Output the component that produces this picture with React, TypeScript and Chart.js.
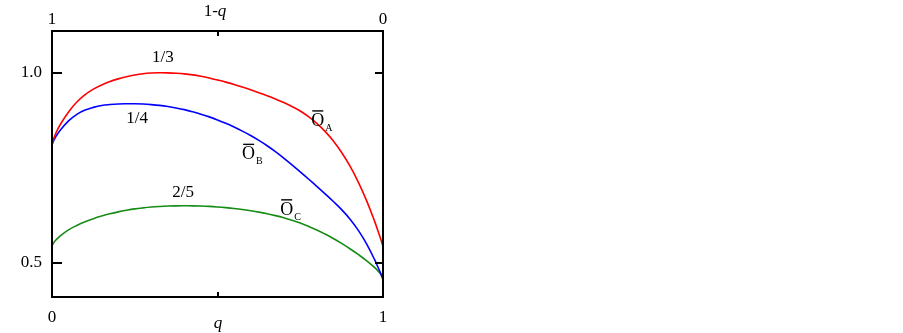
import React, { useEffect, useRef } from "react";
import { Chart, registerables } from "chart.js";

Chart.register(...registerables);

// q values (bottom axis); top axis shows 1-q
const Q = [0, 0.005, 0.0125, 0.025, 0.05, 0.075, 0.1, 0.125, 0.15, 0.175, 0.2, 0.225, 0.25, 0.275, 0.3, 0.325, 0.35, 0.375, 0.4, 0.425, 0.45, 0.475, 0.5, 0.525, 0.55, 0.575, 0.6, 0.625, 0.65, 0.675, 0.7, 0.725, 0.75, 0.775, 0.8, 0.825, 0.85, 0.875, 0.9, 0.925, 0.95, 0.975, 0.9875, 0.995, 1];
const S_A = [0.811, 0.826, 0.843, 0.864, 0.897, 0.923, 0.9425, 0.957, 0.968, 0.9768, 0.984, 0.9898, 0.9943, 0.9975, 0.9993, 1.0, 0.9997, 0.9988, 0.9972, 0.9945, 0.9908, 0.9863, 0.981, 0.9755, 0.9693, 0.9625, 0.9552, 0.9475, 0.9394, 0.9308, 0.9217, 0.9115, 0.8994, 0.8846, 0.867, 0.8458, 0.8205, 0.7903, 0.7548, 0.713, 0.6642, 0.6083, 0.5769, 0.5572, 0.543];
const S_B = [0.811, 0.8215, 0.8337, 0.849, 0.8735, 0.8908, 0.902, 0.909, 0.914, 0.9165, 0.918, 0.9185, 0.9185, 0.9178, 0.9163, 0.9142, 0.9113, 0.9076, 0.9031, 0.8975, 0.8912, 0.884, 0.876, 0.8671, 0.8573, 0.8466, 0.835, 0.822, 0.808, 0.7925, 0.7757, 0.7578, 0.7394, 0.7205, 0.7012, 0.6815, 0.6613, 0.64, 0.6155, 0.586, 0.5505, 0.5075, 0.483, 0.4675, 0.4555];
const S_C = [0.545, 0.5525, 0.5605, 0.5711, 0.5867, 0.5984, 0.6081, 0.6162, 0.623, 0.6289, 0.634, 0.6382, 0.6418, 0.6445, 0.6467, 0.6483, 0.6494, 0.6499, 0.65, 0.6498, 0.6493, 0.6484, 0.647, 0.6452, 0.643, 0.6403, 0.637, 0.6333, 0.629, 0.6241, 0.6185, 0.6119, 0.6045, 0.5959, 0.5865, 0.5757, 0.564, 0.551, 0.537, 0.522, 0.5058, 0.4872, 0.4757, 0.4676, 0.4596];

const X_TICKS = [0, 1];
const Y_TICKS = [0.5, 1.0];

const FRACTION_LABELS = [
  { text: "1/3", q: 0.335, s: 1.039 },
  { text: "1/4", q: 0.257, s: 0.88 },
  { text: "2/5", q: 0.396, s: 0.686 },
];
const O_LABELS = [
  { sub: "A", q: 0.803, s: 0.876 },
  { sub: "B", q: 0.594, s: 0.788 },
  { sub: "C", q: 0.709, s: 0.642 },
];

const SERIF = "'Liberation Serif', 'DejaVu Serif', serif";

const toPoints = (ys: number[]) => Q.map((q, i) => ({ x: q, y: ys[i] }));

const framePlugin = {
  id: "frame",
  afterDraw(chart: any) {
    const { ctx, chartArea, scales } = chart;
    const { left, right, top, bottom } = chartArea;
    const line = (x1: number, y1: number, x2: number, y2: number) => {
      ctx.beginPath();
      ctx.moveTo(x1, y1);
      ctx.lineTo(x2, y2);
      ctx.stroke();
    };
    ctx.save();
    ctx.strokeStyle = "#000";
    ctx.lineWidth = 2;
    ctx.strokeRect(left, top, right - left, bottom - top);
    Y_TICKS.forEach((v) => {
      const y = Math.round(scales.y.getPixelForValue(v));
      line(left, y, left + 10, y);
      line(right, y, right - 8, y);
    });
    const xm = Math.round(scales.x.getPixelForValue(0.5));
    line(xm, bottom, xm, bottom - 5);
    line(xm, top, xm, top + 5);

    ctx.fillStyle = "#000";
    // bottom title
    ctx.font = `italic 17px ${SERIF}`;
    ctx.textAlign = "center";
    ctx.textBaseline = "alphabetic";
    ctx.fillText("q", xm, 328);
    // top title "1-q"
    ctx.font = `17px ${SERIF}`;
    const w1 = ctx.measureText("1-").width;
    ctx.font = `italic 17px ${SERIF}`;
    const w2 = ctx.measureText("q").width;
    const start = xm - 3 - (w1 + w2) / 2;
    ctx.textAlign = "left";
    ctx.font = `17px ${SERIF}`;
    ctx.fillText("1-", start, 16);
    ctx.font = `italic 17px ${SERIF}`;
    ctx.fillText("q", start + w1, 16);

    // fraction labels
    ctx.font = `17px ${SERIF}`;
    ctx.textAlign = "center";
    ctx.textBaseline = "middle";
    FRACTION_LABELS.forEach((l) => {
      ctx.fillText(l.text, scales.x.getPixelForValue(l.q), scales.y.getPixelForValue(l.s));
    });
    // O-bar labels
    O_LABELS.forEach((l) => {
      const cx = scales.x.getPixelForValue(l.q);
      const cy = scales.y.getPixelForValue(l.s);
      ctx.font = `18px ${SERIF}`;
      ctx.textAlign = "center";
      ctx.textBaseline = "alphabetic";
      const base = cy + 6;
      ctx.fillText("O", cx, base);
      const w = ctx.measureText("O").width;
      ctx.lineWidth = 1.4;
      line(cx - w / 2 + 1, base - 15, cx + w / 2 - 1, base - 15);
      ctx.font = `10px ${SERIF}`;
      ctx.textAlign = "left";
      ctx.fillText(l.sub, cx + w / 2 + 1, base + 5);
    });
    ctx.restore();
  },
};

export default function App() {
  const ref = useRef<HTMLCanvasElement | null>(null);
  useEffect(() => {
    if (!ref.current) return;
    const tickFont = { family: SERIF, size: 17 };
    const lineStyle = { borderWidth: 1.6, pointRadius: 0, tension: 0.4 };
    const chart = new Chart(ref.current, {
      type: "line",
      data: {
        datasets: [
          { label: "OA", data: toPoints(S_A), borderColor: "#ff0000", ...lineStyle },
          { label: "OB", data: toPoints(S_B), borderColor: "#0000ff", ...lineStyle },
          { label: "OC", data: toPoints(S_C), borderColor: "#168c16", ...lineStyle },
        ],
      },
      options: {
        responsive: false,
        animation: false,
        devicePixelRatio: 1,
        layout: { padding: { left: 0, right: 520, top: 0, bottom: 0 } },
        plugins: { legend: { display: false }, tooltip: { enabled: false } },
        scales: {
          x: {
            type: "linear",
            position: "bottom",
            min: 0,
            max: 1,
            grid: { display: false, drawTicks: false },
            border: { display: false },
            afterBuildTicks: (s: any) => { s.ticks = X_TICKS.map((v) => ({ value: v })); },
            afterFit: (s: any) => { s.height = 36; },
            ticks: { font: tickFont, color: "#000", padding: 10, callback: (v: any) => String(v) },
          },
          x2: {
            type: "linear",
            position: "top",
            min: 0,
            max: 1,
            reverse: true,
            grid: { display: false, drawTicks: false },
            border: { display: false },
            afterBuildTicks: (s: any) => { s.ticks = X_TICKS.map((v) => ({ value: v })); },
            afterFit: (s: any) => { s.height = 31; },
            ticks: { font: tickFont, color: "#000", padding: 1, callback: (v: any) => String(v) },
          },
          y: {
            type: "linear",
            position: "left",
            min: 0.41,
            max: 1.11,
            grid: { display: false, drawTicks: false },
            border: { display: false },
            afterBuildTicks: (s: any) => { s.ticks = Y_TICKS.map((v) => ({ value: v })); },
            afterFit: (s: any) => { s.width = 52; },
            ticks: { font: tickFont, color: "#000", padding: 10, callback: (v: any) => Number(v).toFixed(1) },
          },
        },
      },
      plugins: [framePlugin],
    } as any);
    return () => chart.destroy();
  }, []);
  return (
    <div style={{ position: "fixed", left: 0, top: 0, width: 903, height: 333, background: "#fff" }}>
      <canvas ref={ref} width={903} height={333} style={{ width: 903, height: 333 }} />
    </div>
  );
}
